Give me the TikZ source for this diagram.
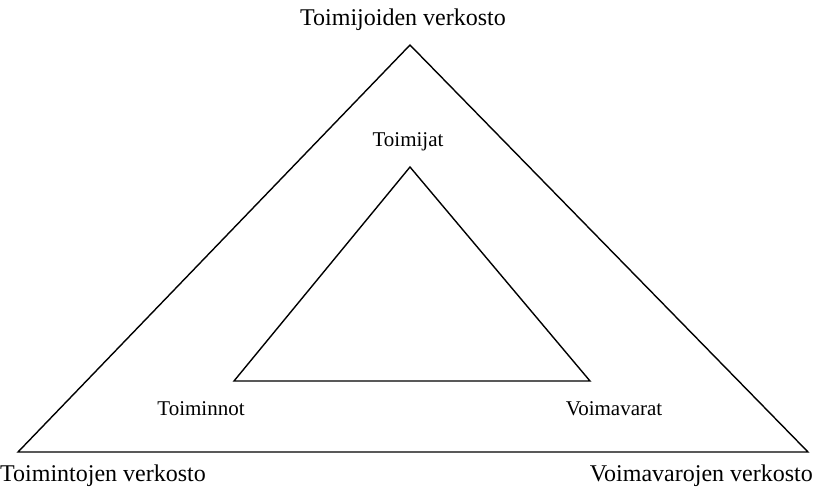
\documentclass[tikz,border=0pt]{standalone}
\usepackage{fontspec}
\setmainfont{Liberation Serif}
\usetikzlibrary{positioning}

\begin{document}
\begin{tikzpicture}[x=1pt,y=-1pt]
  \useasboundingbox (0,0) rectangle (816,488);
  \tikzset{outer label/.style={inner sep=0pt, font=\fontsize{24}{26}\selectfont},
           inner label/.style={inner sep=0pt, font=\fontsize{21}{23}\selectfont}}
  % outer triangle
  \coordinate (o1) at (410,45);
  \coordinate (o2) at (18,452);
  \coordinate (o3) at (808,452);
  % inner triangle
  \coordinate (i1) at (410,167);
  \coordinate (i2) at (234,381);
  \coordinate (i3) at (590,381);
  \draw [line width=1.4pt, line join=miter] (o1) -- (o2) -- (o3) -- cycle;
  \draw [line width=1.4pt, line join=miter] (i1) -- (i2) -- (i3) -- cycle;
  % labels
  \node [outer label] (toimijoiden) at (403,20) {Toimijoiden verkosto};
  \node [inner label] (toimijat) at (408,142) {Toimijat};
  \node [inner label] (toiminnot) at (201,409) {Toiminnot};
  \node [inner label] (voimavarat) at (614,409) {Voimavarat};
  \node [outer label, anchor=west] (toimintojen) at (0,476) {Toimintojen verkosto};
  \node [outer label, anchor=east] (voimavarojen) at (813,476) {Voimavarojen verkosto};
\end{tikzpicture}
\end{document}
